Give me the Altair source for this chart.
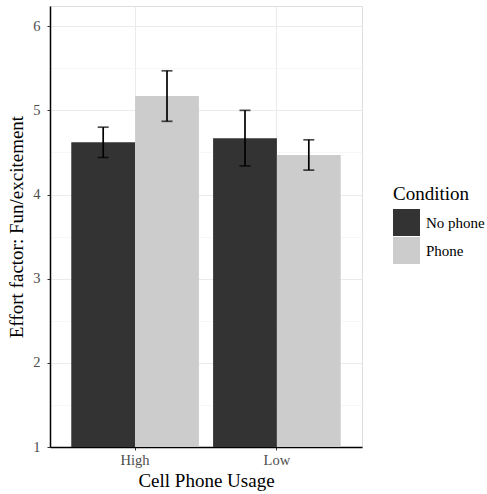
import altair as alt
import pandas as pd

usage = ["High", "High", "Low", "Low"]
condition = ["No phone", "Phone", "No phone", "Phone"]
mean = [4.62, 5.17, 4.67, 4.47]
lower = [4.44, 4.87, 4.34, 4.29]
upper = [4.80, 5.47, 5.00, 4.65]

df = pd.DataFrame({"usage": usage, "condition": condition, "mean": mean,
                   "lower": lower, "upper": upper})

FONT = "Liberation Serif"
yscale = alt.Scale(domain=[1, 6.24], nice=False, zero=False)
xscale = alt.Scale(paddingInner=0.1, paddingOuter=0.15)
xoff = alt.XOffset("condition:N", scale=alt.Scale(paddingInner=0, paddingOuter=0))

x = alt.X("usage:N", scale=xscale, title="Cell Phone Usage",
          axis=alt.Axis(labelAngle=0, bandPosition=0.5, grid=True, gridColor="#EBEBEB",
                        gridWidth=1, tickColor="#333333", tickSize=3,
                        labelColor="#4D4D4D", labelFontSize=14.5, labelPadding=3,
                        labelFont=FONT, titleFont=FONT, titleFontWeight="normal",
                        titleFontSize=19, titleColor="black", titlePadding=5,
                        domainColor="black", domainWidth=1.5))

y = alt.Y("mean:Q", scale=yscale, title="Effort factor: Fun/excitement",
          axis=alt.Axis(values=[1, 1.5, 2, 2.5, 3, 3.5, 4, 4.5, 5, 5.5, 6], format="~g",
                        labelExpr="datum.value % 1 === 0 ? datum.label : ''",
                        gridColor={"condition": {"test": "datum.value % 1 !== 0", "value": "#F2F2F2"}, "value": "#EBEBEB"},
                        gridWidth={"condition": {"test": "datum.value % 1 !== 0", "value": 0.6}, "value": 1},
                        tickOpacity={"condition": {"test": "datum.value % 1 !== 0", "value": 0}, "value": 1},
                        tickColor="#333333", tickSize=3,
                        labelColor="#4D4D4D", labelFontSize=14.5, labelPadding=7,
                        labelFont=FONT, titleFont=FONT, titleFontWeight="normal",
                        titleFontSize=19, titleColor="black", titlePadding=6,
                        domainColor="black", domainWidth=1.5))

bars = alt.Chart(df).mark_bar(stroke=None).encode(
    x=x,
    xOffset=xoff,
    y=y,
    y2=alt.datum(1),
    color=alt.Color("condition:N", title="Condition",
                    scale=alt.Scale(domain=["No phone", "Phone"], range=["#333333", "#CCCCCC"]),
                    legend=alt.Legend(orient="none", legendX=343, legendY=179,
                                      symbolType="square", symbolSize=729,
                                      symbolStrokeWidth=0, rowPadding=1,
                                      titleFontSize=19, titleFont=FONT, titleFontWeight="normal",
                                      titleColor="black", titlePadding=5,
                                      labelFontSize=15, labelFont=FONT, labelColor="black",
                                      labelOffset=6)),
)

rules = alt.Chart(df).mark_rule(color="black", strokeWidth=1.7).encode(
    x=alt.X("usage:N", scale=xscale),
    xOffset=xoff,
    y=alt.Y("lower:Q", scale=yscale),
    y2="upper:Q",
)

caps_top = alt.Chart(df).mark_tick(color="black", thickness=1.7, size=11, orient="horizontal").encode(
    x=alt.X("usage:N", scale=xscale),
    xOffset=xoff,
    y=alt.Y("upper:Q", scale=yscale),
)
caps_bot = alt.Chart(df).mark_tick(color="black", thickness=1.7, size=11, orient="horizontal").encode(
    x=alt.X("usage:N", scale=xscale),
    xOffset=xoff,
    y=alt.Y("lower:Q", scale=yscale),
)

chart = alt.layer(bars, rules, caps_top, caps_bot).properties(
    width=312, height=441,
    autosize=alt.AutoSizeParams(type="none"),
    padding={"left": 50, "top": 6, "right": 125, "bottom": 47},
).configure_view(stroke=None).configure(font=FONT)

chart.save("out.html", embed_options={"renderer": "svg", "actions": False})
